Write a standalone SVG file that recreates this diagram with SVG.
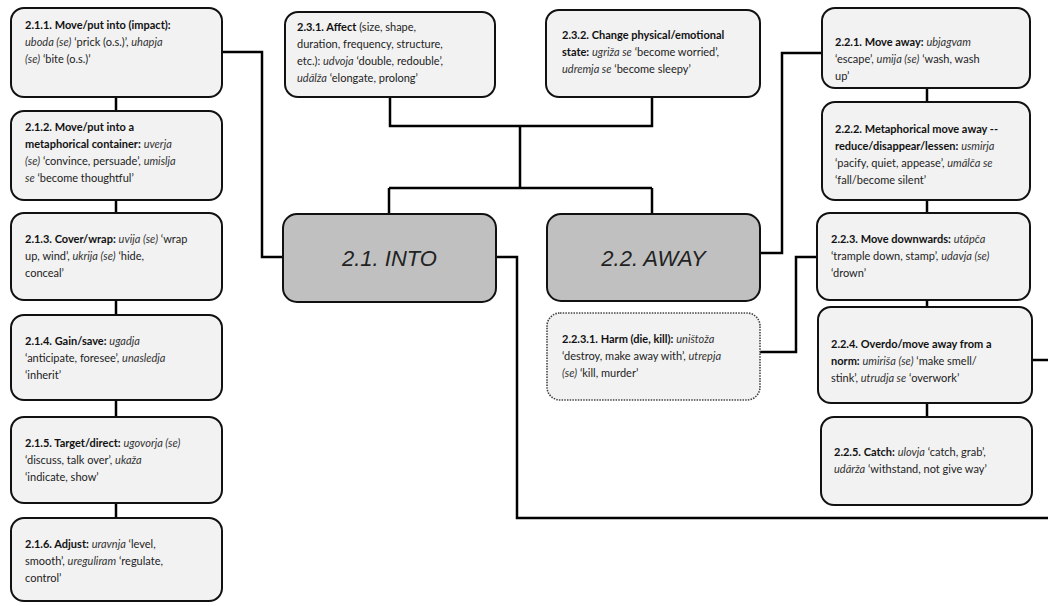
<svg xmlns="http://www.w3.org/2000/svg" width="1048" height="606" viewBox="0 0 1048 606">
<style>
.box{fill:#f2f2f2;stroke:#111;stroke-width:2}
.main{fill:#c0c0c0;stroke:#111;stroke-width:2}
.dot{fill:#f2f2f2;stroke:#444;stroke-width:1.6;stroke-dasharray:1.5 1.2}
.t{font-family:Lato,"Liberation Sans",sans-serif;font-size:11px;fill:#222}
.b{font-weight:bold;fill:#111}
.i{font-style:italic;fill:#333}
.big{font-family:"Liberation Sans",Arial,sans-serif;font-size:22px;font-style:italic;fill:#222;text-anchor:middle}
.conn{fill:none;stroke:#000;stroke-width:2.5}
</style>
<rect width="1048" height="606" fill="#fff"/>
<g id="connectors" class="conn">
<path d="M116 97V111M116 200V213M116 300V315M116 400V417M116 503V518"/>
<path d="M927 88V102M927 200V213M927 300V307M927 403V417"/>
<path d="M222 52H262V257H283"/>
<path d="M496 257H517V518H1048"/>
<path d="M390 97V126H652V97M520 126V188M389 188H652M389 188V214M652 188V214"/>
<path d="M760 253H782V53H822"/>
<path d="M760 352H796V257H817"/>
<path d="M1032 360H1048"/>
</g>
<g id="n211"><rect class="box" x="11" y="8" width="211" height="89" rx="13"/>
<text class="t"><tspan x="25" y="29" class="b">2.1.1. Move/put into (impact):</tspan><tspan x="25" y="46"><tspan class="i">uboda (se)</tspan> ‘prick (o.s.)’, <tspan class="i">uhapja</tspan></tspan><tspan x="25" y="63"><tspan class="i">(se)</tspan> ‘bite (o.s.)’</tspan></text></g>
<g id="n212"><rect class="box" x="11" y="111" width="211" height="89" rx="13"/>
<text class="t"><tspan x="25" y="131" class="b">2.1.2. Move/put into a</tspan><tspan x="25" y="148"><tspan class="b">metaphorical container:</tspan> <tspan class="i">uverja</tspan></tspan><tspan x="25" y="165"><tspan class="i">(se)</tspan> ‘convince, persuade’, <tspan class="i">umislja</tspan></tspan><tspan x="25" y="182"><tspan class="i">se</tspan> ‘become thoughtful’</tspan></text></g>
<g id="n213"><rect class="box" x="11" y="213" width="211" height="87" rx="13"/>
<text class="t"><tspan x="25" y="243"><tspan class="b">2.1.3. Cover/wrap:</tspan> <tspan class="i">uvija (se)</tspan> ‘wrap</tspan><tspan x="25" y="260">up, wind’, <tspan class="i">ukrija (se)</tspan> ‘hide,</tspan><tspan x="25" y="277">conceal’</tspan></text></g>
<g id="n214"><rect class="box" x="11" y="315" width="211" height="85" rx="13"/>
<text class="t"><tspan x="25" y="345"><tspan class="b">2.1.4. Gain/save:</tspan> <tspan class="i">ugadja</tspan></tspan><tspan x="25" y="362">‘anticipate, foresee’, <tspan class="i">unasledja</tspan></tspan><tspan x="25" y="379">‘inherit’</tspan></text></g>
<g id="n215"><rect class="box" x="11" y="417" width="211" height="86" rx="13"/>
<text class="t"><tspan x="25" y="447"><tspan class="b">2.1.5. Target/direct:</tspan> <tspan class="i">ugovorja  (se)</tspan></tspan><tspan x="25" y="464">‘discuss, talk over’, <tspan class="i">ukaža</tspan></tspan><tspan x="25" y="481">‘indicate, show’</tspan></text></g>
<g id="n216"><rect class="box" x="11" y="518" width="211" height="83" rx="13"/>
<text class="t"><tspan x="25" y="548"><tspan class="b">2.1.6. Adjust:</tspan> <tspan class="i">uravnja</tspan> ‘level,</tspan><tspan x="25" y="565">smooth’, <tspan class="i">ureguliram</tspan> ‘regulate,</tspan><tspan x="25" y="582">control’</tspan></text></g>
<g id="n231"><rect class="box" x="285" y="12" width="210" height="85" rx="13"/>
<text class="t"><tspan x="297" y="31"><tspan class="b">2.3.1. Affect</tspan> (size, shape,</tspan><tspan x="297" y="48">duration, frequency, structure,</tspan><tspan x="297" y="65">etc.): <tspan class="i">udvoja</tspan> ‘double, redouble’,</tspan><tspan x="297" y="82"><tspan class="i">udălža</tspan> ‘elongate, prolong’</tspan></text></g>
<g id="n232"><rect class="box" x="546" y="10" width="214" height="87" rx="13"/>
<text class="t"><tspan x="562" y="39" class="b">2.3.2. Change physical/emotional</tspan><tspan x="562" y="56"><tspan class="b">state:</tspan> <tspan class="i">ugriža se</tspan> ‘become worried’,</tspan><tspan x="562" y="73"><tspan class="i">udremja se</tspan> ‘become sleepy’</tspan></text></g>
<g id="n21"><rect class="main" x="283" y="214" width="213" height="88" rx="14"/>
<text class="big" x="389.5" y="266">2.1. INTO</text></g>
<g id="n22"><rect class="main" x="547" y="214" width="213" height="87" rx="14"/>
<text class="big" x="653.5" y="266">2.2. AWAY</text></g>
<g id="n2231"><rect class="dot" x="547" y="313" width="213" height="87" rx="13"/>
<text class="t"><tspan x="562" y="343"><tspan class="b">2.2.3.1. Harm (die, kill):</tspan> <tspan class="i">uništoža</tspan></tspan><tspan x="562" y="360">‘destroy, make away with’, <tspan class="i">utrepja</tspan></tspan><tspan x="562" y="377"><tspan class="i">(se)</tspan> ‘kill, murder’</tspan></text></g>
<g id="n221"><rect class="box" x="822" y="8" width="208" height="80" rx="13"/>
<text class="t"><tspan x="835" y="46"><tspan class="b">2.2.1. Move away:</tspan> <tspan class="i">ubjagvam</tspan></tspan><tspan x="835" y="63">‘escape’, <tspan class="i">umija (se)</tspan> ‘wash, wash</tspan><tspan x="835" y="80">up’</tspan></text></g>
<g id="n222"><rect class="box" x="822" y="102" width="208" height="98" rx="13"/>
<text class="t"><tspan x="835" y="133" class="b">2.2.2. Metaphorical move away --</tspan><tspan x="835" y="150"><tspan class="b">reduce/disappear/lessen:</tspan> <tspan class="i">usmirja</tspan></tspan><tspan x="835" y="167">‘pacify, quiet, appease’, <tspan class="i">umălča se</tspan></tspan><tspan x="835" y="184">‘fall/become silent’</tspan></text></g>
<g id="n223"><rect class="box" x="817" y="213" width="213" height="87" rx="13"/>
<text class="t"><tspan x="831" y="243"><tspan class="b">2.2.3. Move downwards:</tspan> <tspan class="i">utăpča</tspan></tspan><tspan x="831" y="260">‘trample down, stamp’, <tspan class="i">udavja (se)</tspan></tspan><tspan x="831" y="277">‘drown’</tspan></text></g>
<g id="n224"><rect class="box" x="818" y="307" width="214" height="96" rx="13"/>
<text class="t"><tspan x="831" y="348" class="b">2.2.4. Overdo/move away from a</tspan><tspan x="831" y="365"><tspan class="b">norm:</tspan> <tspan class="i">umiriša (se)</tspan> ‘make smell/</tspan><tspan x="831" y="382">stink’, <tspan class="i">utrudja se</tspan> ‘overwork’</tspan></text></g>
<g id="n225"><rect class="box" x="821" y="417" width="211" height="88" rx="13"/>
<text class="t"><tspan x="834" y="456"><tspan class="b">2.2.5. Catch:</tspan> <tspan class="i">ulovja</tspan> ‘catch, grab’,</tspan><tspan x="834" y="473"><tspan class="i">udărža</tspan> ‘withstand, not give way’</tspan></text></g>
</svg>
